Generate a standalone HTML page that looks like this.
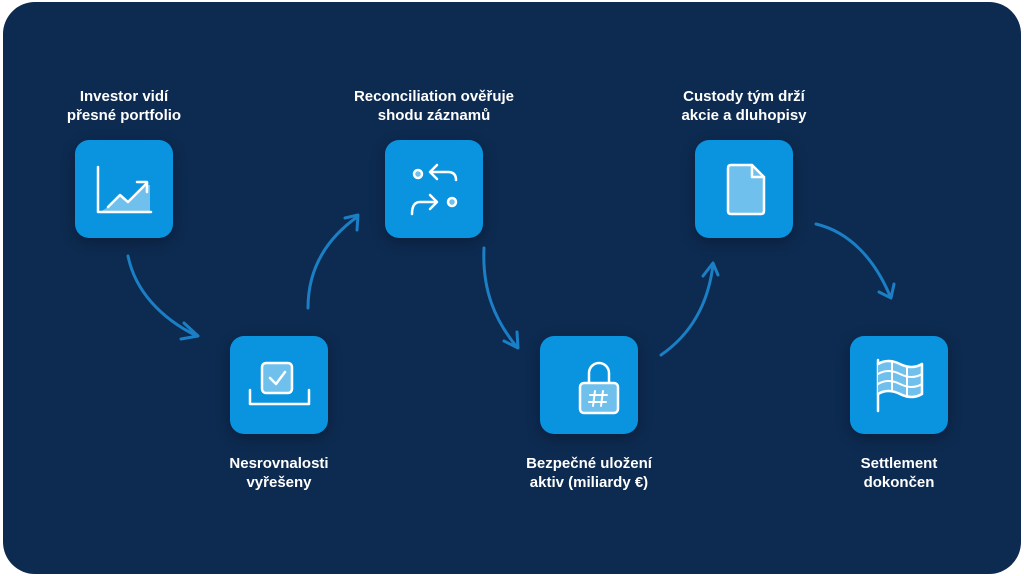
<!DOCTYPE html>
<html><head><meta charset="utf-8"><style>
html,body{margin:0;padding:0;background:#fff;width:1024px;height:576px;overflow:hidden}
.panel{position:absolute;left:3px;top:2px;width:1018px;height:572px;background:#0d2a50;border-radius:32px}
.box{position:absolute;width:98px;height:98px;background:#0a93df;border-radius:14px;box-shadow:0 4px 14px rgba(0,0,0,.25)}
.lbl{position:absolute;width:220px;text-align:center;color:#fff;font-family:"Liberation Sans",sans-serif;font-weight:bold;font-size:15px;line-height:19px}
svg{position:absolute;left:0;top:0}
</style></head><body>
<div class="panel"></div>
<div class="box" style="left:75px;top:140px"></div>
<div class="box" style="left:230px;top:336px"></div>
<div class="box" style="left:385px;top:140px"></div>
<div class="box" style="left:540px;top:336px"></div>
<div class="box" style="left:695px;top:140px"></div>
<div class="box" style="left:850px;top:336px"></div>
<div class="lbl" style="left:14px;top:87px">Investor vidí<br>přesné portfolio</div>
<div class="lbl" style="left:324px;top:87px">Reconciliation ověřuje<br>shodu záznamů</div>
<div class="lbl" style="left:634px;top:87px">Custody tým drží<br>akcie a dluhopisy</div>
<div class="lbl" style="left:169px;top:454px">Nesrovnalosti<br>vyřešeny</div>
<div class="lbl" style="left:479px;top:454px">Bezpečné uložení<br>aktiv (miliardy €)</div>
<div class="lbl" style="left:789px;top:454px">Settlement<br>dokončen</div>
<svg width="1024" height="576" viewBox="0 0 1024 576" fill="none" stroke-linecap="round" stroke-linejoin="round">
<g stroke="#1b7fc6" stroke-width="3">
<path d="M128 256 C135 290 160 318 197 336"/><path d="M184 323 L198 336 L181 339"/>
<path d="M308 308 C308 270 325 240 357 217"/><path d="M345 218 L358 215 L357 230"/>
<path d="M484 248 C482 290 495 320 516 346"/><path d="M504 341 L518 348 L517 332"/>
<path d="M661 355 C690 335 708 305 713 265"/><path d="M703 276 L713 263 L718 275"/>
<path d="M816 224 C850 232 875 260 890 296"/><path d="M879 292 L891 298 L894 284"/>
</g>
<g stroke="#fff" stroke-width="2.5">
<polygon points="100,212 108,207 120,195 128,202 147,185 150,185 150,212" fill="#6fc0ec" stroke="none"/>
<path d="M98 167 L98 212 L151 212"/>
<path d="M108 207 L120 195 L128 202 L147 183"/><path d="M137 182 L147 182 L147 192"/>
<rect x="262" y="363" width="30" height="30" rx="4" fill="#6fc0ec"/>
<path d="M270 378 L276 384 L285 372"/>
<path d="M250 390 L250 404 L309 404 L309 390"/>
<circle cx="418" cy="174" r="4" fill="#6fc0ec"/><circle cx="452" cy="202" r="4" fill="#6fc0ec"/>
<path d="M437 165 L430 172 L437 179"/><path d="M431 172 L448 172 Q456 172 456 180"/>
<path d="M412 214 Q412 202 420 202 L436 202"/><path d="M430 195 L437 202 L430 209"/>
<path d="M589 383 L589 373 A10 10 0 0 1 609 373 L609 383"/>
<rect x="580" y="383" width="38" height="30" rx="4" fill="#6fc0ec"/>
<path d="M595 391 L593 406 M603 391 L601 406 M590 395 L607 395 M589 402 L606 402" stroke-width="2"/>
<path d="M731 165 L752 165 L764 177 L764 211 Q764 214 761 214 L731 214 Q728 214 728 211 L728 168 Q728 165 731 165 Z" fill="#6fc0ec"/>
<path d="M752 165 L752 177 L764 177"/>
<path d="M878 360 L878 411"/>
<path d="M878 364 Q888 358 900 364 Q912 370 922 364 L922 394 Q912 400 900 394 Q888 388 878 394" fill="#6fc0ec"/>
<path d="M878 374 Q888 368 900 374 Q912 380 922 374 M878 384 Q888 378 900 384 Q912 390 922 384 M892 361 L892 391 M907 367 L907 397" stroke-width="2"/>
</g>
</svg>
</body></html>
